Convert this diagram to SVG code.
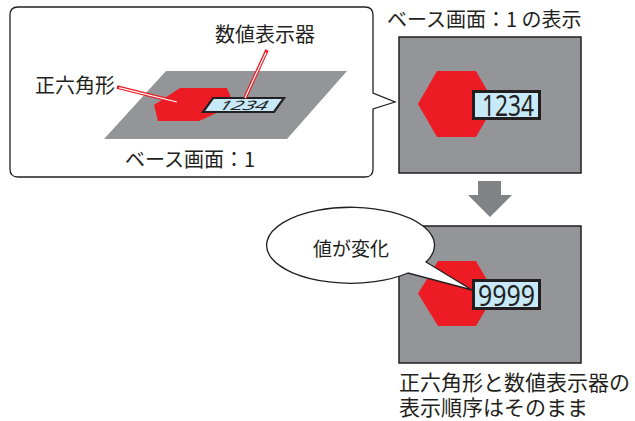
<svg xmlns="http://www.w3.org/2000/svg" width="635" height="421" viewBox="0 0 635 421">
<style>
.t{font-family:"Noto Sans CJK JP","Noto Sans",sans-serif;fill:#231f20}
.scr{fill:#939598;stroke:#231f20;stroke-width:1.5}
.hex{fill:#ed1c24}
.disp{fill:#c7e9f8;stroke:#231f20;stroke-width:3}
.num{font-family:"Noto Sans","Liberation Sans",sans-serif;fill:#231f20}
.lr{stroke:#ed1c24;stroke-width:3.6;fill:none}
.lw{stroke:#fff;stroke-width:1.2;fill:none}
.ol{fill:#fff;stroke:#231f20;stroke-width:1.3}
</style>
<rect width="635" height="421" fill="#fff"/>
<g id="callout">
<path class="ol" d="M18,7 H365 Q373,7 373,15 V93 L395,102 L373,109 V169 Q373,177 365,177 H18 Q10,177 10,169 V15 Q10,7 18,7 Z"/>
</g>
<g id="base-screen">
<polygon points="166,71 347,71 287,139 104,139" fill="#939598"/>
<text class="t" x="125" y="167" font-size="20">ベース画面：1</text>
</g>
<g id="hexagon-3d">
<polygon class="hex" points="154,105 180,88 227,88 234,105 199,121 158,121"/>
</g>
<g id="display-3d">
<polygon points="213,98 284,98 274,112 203,112" fill="#c7e9f8" stroke="#231f20" stroke-width="2.2"/>
<text class="num" transform="translate(241,109.5) skewX(-35)" x="0" y="0" font-size="13" text-anchor="middle" textLength="48" lengthAdjust="spacingAndGlyphs">1234</text>
</g>
<g id="label-hexagon">
<text class="t" x="35" y="93" font-size="20">正六角形</text>
</g>
<g id="label-display">
<text class="t" x="215" y="42" font-size="20">数値表示器</text>
</g>
<g id="screen1">
<text class="t" x="387" y="27" font-size="20">ベース画面：1 の表示</text>
<rect class="scr" x="399" y="37" width="182" height="136"/>
<polygon class="hex" points="418,104 437,71 476,71 495,104 476,137 437,137"/>
<rect class="disp" x="473.5" y="91.5" width="66" height="27"/>
<text class="num" x="482" y="116" font-size="29" textLength="52" lengthAdjust="spacingAndGlyphs">1234</text>
</g>
<g id="screen2">
<rect class="scr" x="399" y="226" width="182" height="137"/>
<polygon class="hex" points="418,293.5 438,261 476,261 495,293.5 476,326 438,326"/>
<rect class="disp" x="473.5" y="280.5" width="66" height="28"/>
<text class="num" x="478" y="306" font-size="29" textLength="57" lengthAdjust="spacingAndGlyphs">9999</text>
</g>
<g id="bubble">
<path class="ol" d="M408,273 A84,38 0 1 1 426,262 L472,290 Z"/>
<text class="t" x="313" y="256" font-size="19">値が変化</text>
</g>
<g id="note">
<text class="t" font-size="21"><tspan x="399" y="390">正六角形と数値表示器の</tspan><tspan x="399" y="415">表示順序はそのまま</tspan></text>
</g>
<g id="connectors">
<path class="lr" d="M117,87 L177,102"/>
<path class="lw" d="M119,87.6 L177,102"/>
<path class="lr" d="M267,50 L245,98"/>
<path class="lw" d="M266,52.5 L245,98"/>
<polygon points="478,181 501,181 501,195 512,195 490,217 468,195 478,195" fill="#808285"/>
</g>
</svg>
